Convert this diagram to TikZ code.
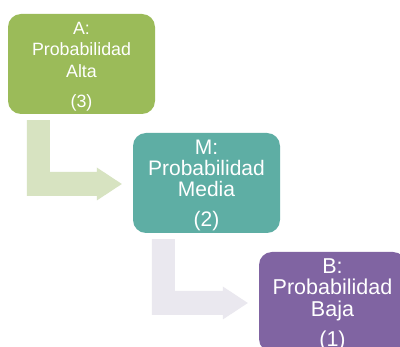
\documentclass[tikz,border=0pt]{standalone}
\usepackage{fontspec}
\setmainfont{Liberation Sans}
\usetikzlibrary{calc}
\definecolor{boxA}{HTML}{9BBB59}
\definecolor{boxM}{HTML}{5EAEA4}
\definecolor{boxB}{HTML}{8064A2}
\definecolor{bendA}{HTML}{D7E3C1}
\definecolor{bendM}{HTML}{EAE8EF}
\begin{document}
\begin{tikzpicture}[x=1pt,y=-1pt,
  stage/.style={rounded corners=13pt, minimum width=147pt, minimum height=100pt,
    inner sep=0pt, text=white, align=center},
  bentarrow/.style={draw=none}]
\useasboundingbox (0,0) rectangle (400,347);
\clip (0,0) rectangle (400,347);
\fill[white] (0,0) rectangle (400,347);
\node[stage, fill=boxA, font=\fontsize{17.8}{21.5}\selectfont] (a) at (81.5,64)
  {\rule{0pt}{17.5pt}A:\\Probabilidad\\Alta\\[8.5pt](3)};
\node[stage, fill=boxM, font=\fontsize{21}{21}\selectfont] (m) at (206.5,183)
  {\rule{0pt}{19.5pt}M:\\Probabilidad\\Media\\[9pt](2)};
\node[stage, fill=boxB, font=\fontsize{21.5}{21.5}\selectfont] (b) at (332.5,302)
  {\rule{0pt}{20pt}B:\\Probabilidad\\Baja\\[9pt](1)};
\coordinate (a1) at ($(a.south west)+(19,6)$);
\coordinate (t1) at ($(m.west)+(-11,1)$);
\coordinate (m1) at ($(m.south west)+(19,6)$);
\coordinate (t2) at ($(b.west)+(-11,1)$);
\fill[bentarrow, bendA] (a1) -- ++(23,0) |- ($(t1)+(-25,-12)$) -- ++(0,-4.5)
  -- (t1) -- ($(t1)+(-25,16.5)$) -- ++(0,-4.5) -| (a1) -- cycle;
\fill[bentarrow, bendM] (m1) -- ++(23,0) |- ($(t2)+(-25,-12)$) -- ++(0,-4.5)
  -- (t2) -- ($(t2)+(-25,16.5)$) -- ++(0,-4.5) -| (m1) -- cycle;
\end{tikzpicture}
\end{document}
